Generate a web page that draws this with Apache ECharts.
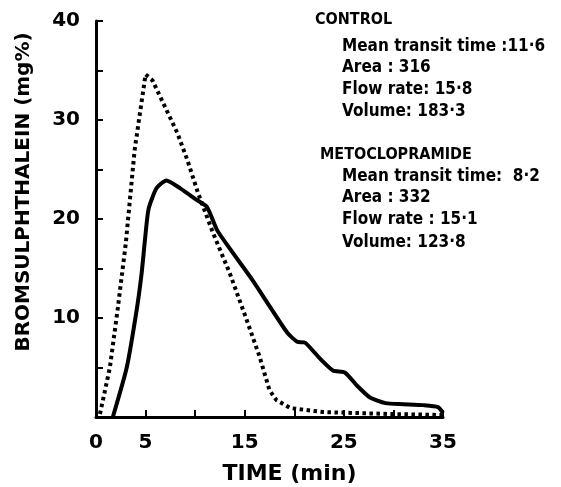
<!DOCTYPE html>
<html>
<head>
<meta charset="utf-8">
<script src="https://cdn.jsdelivr.net/npm/echarts@6/dist/echarts.min.js"></script>
<style>
  html, body { margin: 0; padding: 0; background: #fff; }
  #chart { width: 561px; height: 487px; }
</style>
</head>
<body>
<div id="chart"></div>
<script>
// control curve (solid): [time (min), bromsulphthalein (mg%)]
var controlCurve = [
  [1.7, 0], [3.1, 5], [4.1, 10.8], [4.6, 14.5], [4.95, 18], [5.3, 21],
  [6.1, 23.1], [7.1, 23.9], [8.5, 23.1], [10.2, 21.9], [11.2, 21.2],
  [12.2, 18.9], [13.5, 17], [15.8, 13.8], [17.5, 11.2], [19.3, 8.5],
  [20.3, 7.6], [21.1, 7.5], [22.5, 6], [23.9, 4.7], [25.1, 4.5],
  [26.3, 3.2], [27.6, 2], [29.2, 1.4], [31, 1.3], [33, 1.2], [34.5, 1.0],
  [35, 0.4]
];
// metoclopramide curve (dotted)
var metoCurve = [
  [0.4, 0.3], [1.4, 5], [2.2, 11], [3, 17.5], [3.9, 27], [5, 34.6],
  [5.7, 34], [6.5, 32.3], [8.2, 28.7], [9.2, 26], [10.3, 22.6],
  [11.8, 18.6], [13.5, 14.5], [15.2, 9.8], [16.5, 6.1], [17.5, 2.7],
  [18.2, 1.7], [19.6, 0.9], [22.9, 0.5], [29.7, 0.3], [35, 0.2]
];
var xLabels = [0, 5, 15, 25, 35];
var yLabels = [10, 20, 30, 40];

var controlNotes = ['Mean transit time :11·6', 'Area : 316', 'Flow rate: 15·8', 'Volume: 183·3'];
var metoNotes = ['Mean transit time:  8·2', 'Area : 332', 'Flow rate : 15·1', 'Volume: 123·8'];

var headFont = 'bold 16px "DejaVu Sans Condensed", sans-serif';
var noteFont = 'bold 17px "DejaVu Sans Condensed", sans-serif';
var graphics = [];
graphics.push({ type: 'text', x: 315, y: 20, style: { text: 'CONTROL', font: headFont, fill: '#000', textVerticalAlign: 'middle' } });
var cy = [47, 68, 90, 112];
controlNotes.forEach(function (t, i) {
  graphics.push({ type: 'text', x: 342, y: cy[i], style: { text: t, font: noteFont, fill: '#000', textVerticalAlign: 'middle' } });
});
graphics.push({ type: 'text', x: 320, y: 155, style: { text: 'METOCLOPRAMIDE', font: headFont, fill: '#000', textVerticalAlign: 'middle' } });
var my = [177, 198, 220, 243];
metoNotes.forEach(function (t, i) {
  graphics.push({ type: 'text', x: 342, y: my[i], style: { text: t, font: noteFont, fill: '#000', textVerticalAlign: 'middle' } });
});

var myChart = echarts.init(document.getElementById('chart'));
var option = {
  backgroundColor: '#fff',
  animation: false,
  grid: {
    left: 96,
    right: 118,
    top: 21,
    bottom: 70,
    containLabel: false,
    outerBoundsMode: 'none'
  },
  xAxis: {
    type: 'value',
    min: 0,
    max: 35,
    interval: 5,
    name: 'TIME (min)',
    nameLocation: 'middle',
    nameGap: 46,
    nameTextStyle: { fontSize: 22, fontWeight: 'bold', color: '#000', fontFamily: 'DejaVu Sans', padding: [0, 0, 0, 40] },
    axisLine: { lineStyle: { color: '#000', width: 3 } },
    axisTick: { inside: true, length: 7, lineStyle: { color: '#000', width: 2 } },
    splitLine: { show: false },
    axisLabel: {
      fontSize: 20,
      fontWeight: 'bold',
      color: '#000',
      fontFamily: 'DejaVu Sans',
      margin: 16,
      formatter: function (v) { return xLabels.indexOf(v) >= 0 ? String(v) : ''; }
    }
  },
  yAxis: {
    type: 'value',
    min: 0,
    max: 40,
    interval: 5,
    name: 'BROMSULPHTHALEIN (mg%)',
    nameLocation: 'middle',
    nameGap: 62,
    nameTextStyle: { fontSize: 20, fontWeight: 'bold', color: '#000', fontFamily: 'DejaVu Sans', padding: [0, 0, 0, 54] },
    axisLine: { show: true, lineStyle: { color: '#000', width: 3 } },
    axisTick: { show: true, inside: true, length: 7, lineStyle: { color: '#000', width: 2 } },
    splitLine: { show: false },
    axisLabel: {
      fontSize: 20,
      fontWeight: 'bold',
      color: '#000',
      fontFamily: 'DejaVu Sans',
      margin: 16,
      formatter: function (v) { return yLabels.indexOf(v) >= 0 ? String(v) : ''; }
    }
  },
  series: [
    {
      name: 'Control',
      type: 'line',
      data: controlCurve,
      symbol: 'none',
      clip: false,
      smooth: 0.2,
      lineStyle: { color: '#000', width: 4 }
    },
    {
      name: 'Metoclopramide',
      type: 'line',
      data: metoCurve,
      symbol: 'none',
      clip: false,
      lineStyle: { color: '#000', width: 4, type: [3.5, 3.5] }
    }
  ],
  graphic: graphics
};
myChart.setOption(option);
</script>
</body>
</html>
